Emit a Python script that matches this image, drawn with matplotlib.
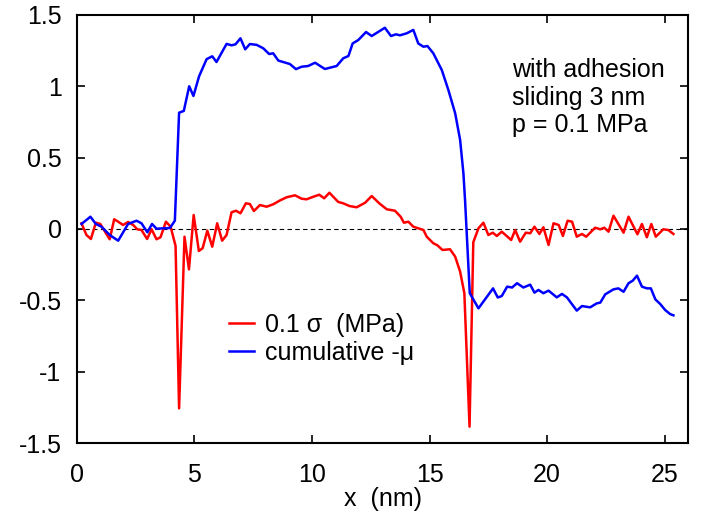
import matplotlib.pyplot as plt

plt.rcParams['font.family'] = ['Liberation Sans', 'DejaVu Sans']

# valeurs
x_sigma = [0.2, 0.41, 0.6, 0.81, 1.0, 1.26, 1.4, 1.59, 1.76, 1.97, 2.18, 2.4, 2.57, 2.75,
           2.99, 3.18, 3.39, 3.56, 3.79, 3.99, 4.2, 4.35, 4.58, 4.77, 4.97, 5.19, 5.35,
           5.55, 5.76, 5.97, 6.18, 6.37, 6.58, 6.77, 6.96, 7.19, 7.36, 7.53, 7.79, 8.07,
           8.35, 8.64, 8.92, 9.28, 9.56, 9.77, 10.06, 10.31, 10.52, 10.74, 11.12, 11.33,
           11.59, 11.9, 12.26, 12.54, 12.86, 13.18, 13.53, 13.77, 13.91, 14.1, 14.31,
           14.74, 14.88, 15.16, 15.33, 15.55, 15.87, 16.09, 16.3, 16.48, 16.7, 16.86,
           17.08, 17.29, 17.5, 17.69, 17.86, 18.07, 18.47, 18.64, 18.85, 19.09, 19.28,
           19.46, 19.67, 19.84, 20.06, 20.27, 20.49, 20.67, 20.87, 21.06, 21.26, 21.48,
           21.66, 22.04, 22.26, 22.43, 22.61, 22.82, 23.25, 23.46, 23.84, 24.03, 24.24,
           24.43, 24.62, 24.94, 25.15, 25.37]
sigma = [0.04, -0.042, -0.07, 0.044, 0.035, -0.035, -0.072, 0.068, 0.051, 0.028, 0.049,
         0.028, -0.002, -0.007, -0.07, -0.002, -0.072, -0.058, 0.051, 0.016, -0.119,
         -1.257, -0.054, -0.283, 0.098, -0.154, -0.135, -0.012, -0.124, 0.04, -0.082,
         -0.042, 0.117, 0.128, 0.11, 0.18, 0.175, 0.126, 0.168, 0.156, 0.173, 0.2,
         0.222, 0.236, 0.212, 0.208, 0.226, 0.24, 0.215, 0.254, 0.189, 0.18, 0.161,
         0.152, 0.184, 0.231, 0.18, 0.138, 0.128, 0.086, 0.044, 0.051, 0.016, -0.007,
         -0.054, -0.1, -0.114, -0.147, -0.142, -0.194, -0.299, -0.45, -1.385, -0.093,
         0.005, 0.044, -0.042, -0.026, -0.049, -0.019, -0.077, -0.007, -0.089, -0.026,
         -0.03, 0.016, -0.035, 0.012, -0.112, 0.04, 0.028, -0.049, 0.058, 0.051, -0.054,
         -0.035, -0.054, 0.009, -0.002, 0.009, -0.019, 0.093, -0.026, 0.086, -0.037,
         0.035, -0.058, 0.035, -0.054, -0.002, -0.007, -0.035]

x_mu = [0.2, 0.58, 0.81, 1.05, 1.4, 1.76, 2.18, 2.54, 2.75, 3.0, 3.2, 3.39, 3.96, 4.17,
        4.35, 4.55, 4.78, 4.96, 5.2, 5.52, 5.76, 5.94, 6.16, 6.37, 6.58, 6.75, 6.96, 7.16,
        7.36, 7.65, 7.93, 8.18, 8.35, 8.57, 9.06, 9.32, 9.56, 9.84, 10.13, 10.55, 11.05,
        11.33, 11.55, 11.73, 11.97, 12.3, 12.54, 13.1, 13.36, 13.57, 13.74, 14.03, 14.31,
        14.52, 14.74, 14.91, 15.16, 15.52, 15.8, 16.09, 16.3, 16.44, 16.51, 16.71, 17.08,
        17.7, 17.9, 18.07, 18.3, 18.51, 18.72, 18.99, 19.28, 19.46, 19.63, 19.84, 20.06,
        20.41, 20.63, 20.84, 21.26, 21.48, 21.83, 22.11, 22.26, 22.47, 22.82, 23.03,
        23.25, 23.46, 23.64, 23.82, 24.03, 24.24, 24.41, 24.6, 24.81, 25.02, 25.23, 25.37]
mu = [0.035, 0.086, 0.035, 0.016, -0.042, -0.082, 0.035, 0.058, 0.04, -0.023, 0.035,
      0.002, 0.007, 0.058, 0.815, 0.827, 1.0, 0.932, 1.07, 1.19, 1.21, 1.17, 1.235,
      1.297, 1.287, 1.294, 1.336, 1.259, 1.296, 1.29, 1.266, 1.226, 1.231, 1.18, 1.156,
      1.12, 1.137, 1.142, 1.165, 1.121, 1.142, 1.196, 1.212, 1.30, 1.324, 1.38, 1.352,
      1.41, 1.352, 1.364, 1.357, 1.371, 1.395, 1.30, 1.277, 1.282, 1.231, 1.114, 0.974,
      0.81, 0.624, 0.39, 0.20, -0.45, -0.556, -0.416, -0.48, -0.47, -0.404, -0.41,
      -0.38, -0.41, -0.39, -0.446, -0.427, -0.45, -0.432, -0.479, -0.455, -0.479,
      -0.572, -0.54, -0.549, -0.521, -0.516, -0.458, -0.423, -0.416, -0.44, -0.38,
      -0.362, -0.327, -0.404, -0.416, -0.416, -0.493, -0.526, -0.568, -0.596, -0.605]

fig = plt.figure(figsize=(7.11, 5.14), dpi=100)
ax = fig.add_axes([0.108, 0.138, 0.86, 0.833])

# ligne zéro en pointillés
ax.axhline(0, color='black', lw=0.8, ls=(0, (4, 3)), zorder=1)

ax.plot(x_sigma, sigma, color='#ff0000', lw=1.8, label='0.1 σ  (MPa)')
ax.plot(x_mu, mu, color='#0000ff', lw=1.8, label='cumulative -μ')

ax.set_xlim(0, 26)
ax.set_ylim(-1.5, 1.5)
ax.set_xticks([0, 5, 10, 15, 20, 25])
ax.set_yticks([-1.5, -1, -0.5, 0, 0.5, 1, 1.5])
ax.set_yticklabels(['-1.5', '-1', '-0.5', '0', '0.5', '1', '1.5'])
ax.tick_params(direction='in', length=6, width=1.2, top=True, right=True, labelsize=18)
ax.tick_params(axis='x', pad=14)
ax.tick_params(axis='y', pad=11)
for s in ax.spines.values():
    s.set_linewidth(1.5)

ax.set_xlabel('x  (nm)', fontsize=18, labelpad=0)

ax.text(0.712, 0.9, 'with adhesion\nsliding 3 nm\np = 0.1 MPa', transform=ax.transAxes,
        fontsize=18, va='top', ha='left', linespacing=1.2)

ax.legend(loc='center left', bbox_to_anchor=(0.249, 0.243), frameon=False, fontsize=18,
          handlelength=1.0, handletextpad=0.42, labelspacing=0.15, borderpad=0,
          borderaxespad=0)

plt.savefig('out.png', dpi=100)
